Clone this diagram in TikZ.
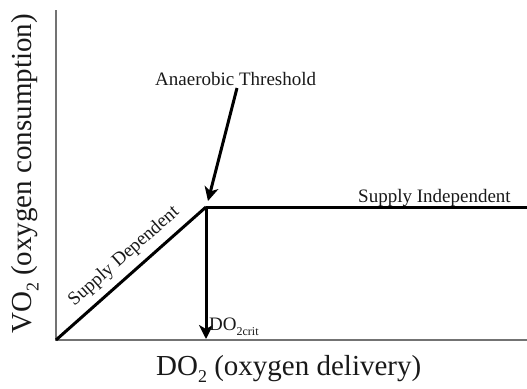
\documentclass[tikz,border=0pt]{standalone}
\usepackage{fontspec}
\setmainfont{Liberation Serif}
\usetikzlibrary{arrows.meta}
\newcommand{\lowsub}[1]{\raisebox{-0.26em}{\fontsize{0.62em}{0.7em}\selectfont #1}}
\tikzset{
  axis/.style={line width=1.6pt, draw=black!55},
  curve/.style={line width=3pt, draw=black},
  bigarrow/.style={line width=3pt, draw=black, -{Stealth[length=14pt,width=14pt,inset=4pt]}},
  lbl/.style={font=\fontsize{19}{21}\selectfont, text=black!90, inner sep=0pt},
  axlbl/.style={font=\fontsize{29}{32}\selectfont, text=black!90, inner sep=0pt}
}
\begin{document}
\begin{tikzpicture}[x=1pt,y=-1pt]
\useasboundingbox (0,0) rectangle (527,388);
\coordinate (O) at (56,340);
\coordinate (ytop) at (56,10);
\coordinate (xend) at (527,340);
\coordinate (C) at (206,207);
\coordinate (E) at (527,207);
\coordinate (crit) at (206,339);
\coordinate (A) at (237,88);
\coordinate (tip) at (208,201);
% axes
\draw[axis] (ytop) -- (O) -- (xend);
% curve
\draw[curve] (O) -- node[sloped, above=7pt, pos=0.53, lbl] (sd) {Supply Dependent} (C);
\draw[curve] (C) -- (E);
\draw[bigarrow] (C) -- (crit);
\draw[bigarrow] (A) -- (tip);
% labels
\node[lbl, anchor=base west] (at) at (155,85) {Anaerobic Threshold};
\node[lbl, anchor=base west] (si) at (358,202) {Supply Independent};
\node[lbl, anchor=base west] (dc) at (209,330) {DO{\fontsize{12}{12}\selectfont\raisebox{-5pt}{2crit}}};
\node[axlbl, anchor=base west] (xl) at (156,375) {DO\lowsub{2} (oxygen delivery)};
\node[axlbl, anchor=base west, rotate=90] (yl) at (31,334) {VO\lowsub{2} (oxygen consumption)};
\end{tikzpicture}
\end{document}
